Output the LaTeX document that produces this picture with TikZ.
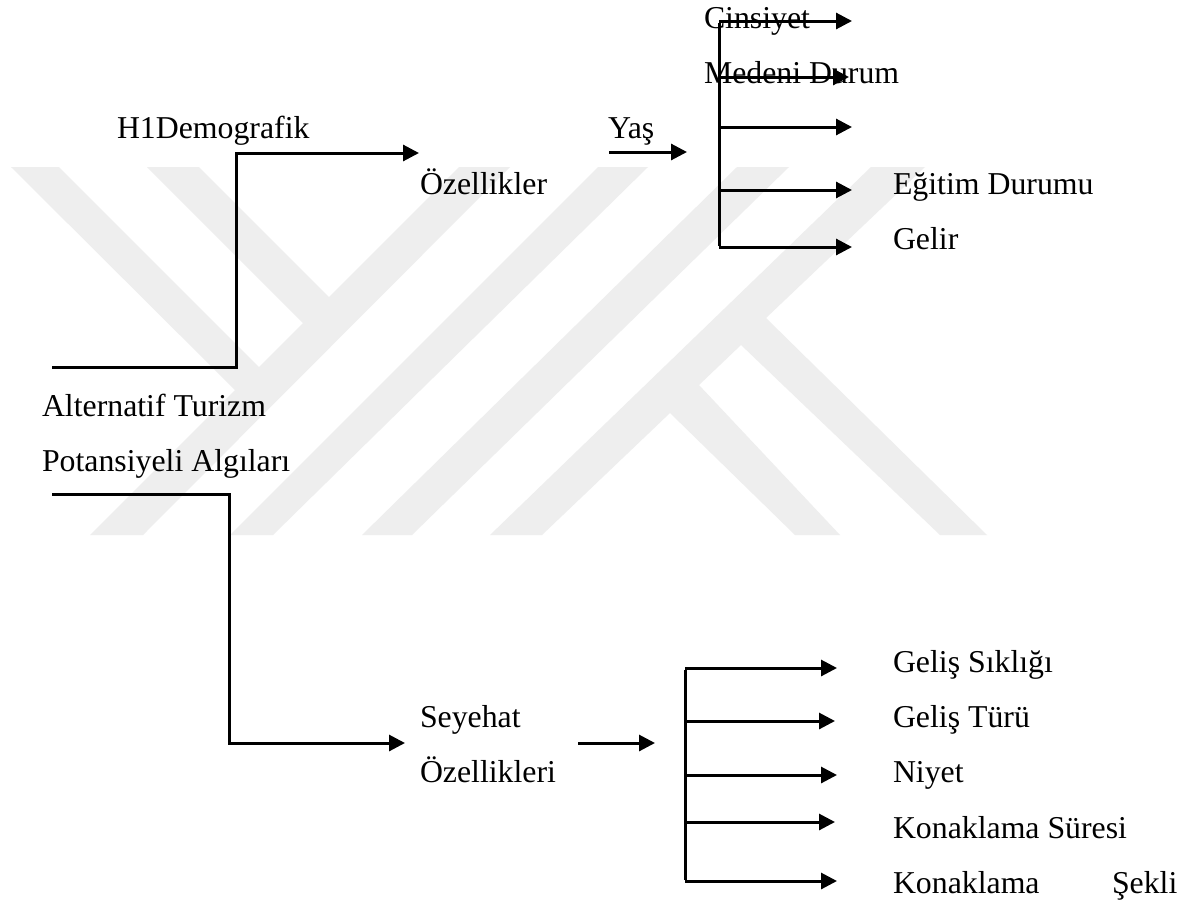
\documentclass[tikz,border=0pt]{standalone}
\usepackage{fontspec}
\setmainfont{Liberation Serif}
\usetikzlibrary{arrows.meta}
\definecolor{wmgrey}{HTML}{EEEEEE}
\tikzset{
  lbl/.style={anchor=base west,inner sep=0pt,outer sep=0pt,font=\fontsize{31.8}{36}\selectfont},
  wm/.style={fill=wmgrey,draw=none},
  wire/.style={line width=3pt,line join=miter,black},
  arrowline/.style={wire,-{Triangle[length=16pt,width=16pt]}},
}
\begin{document}
\begin{tikzpicture}[x=1pt,y=-1pt]
\useasboundingbox (0,0) rectangle (1201,905);
\fill[white] (0,0) rectangle (1201,905);
% watermark
\fill[wm] (90,535) -- (143,535) -- (510,167) -- (459,167) -- (329,297) -- (199,167) -- (147,167) -- (303,323) -- (259,367) -- (59,167) -- (11,167) -- (235,390) -- cycle;
\fill[wm] (230,535) -- (273,535) -- (648,167) -- (598,167) -- cycle;
\fill[wm] (362,535) -- (412,535) -- (789,167) -- (737,167) -- cycle;
\fill[wm] (490,535) -- (542,535) -- (670,413) -- (795,535) -- (840,535) -- (699,385) -- (741,345) -- (940,535) -- (987,535) -- (766,318) -- (925,167) -- (871,167) -- cycle;
% text
\node[lbl] (h1) at (117,138) {H1Demografik};
\node[lbl] (oz) at (420,194) {Özellikler};
\node[lbl] (yas) at (608,138) {Yaş};
\node[lbl] (cin) at (704,28) {Cinsiyet};
\node[lbl] (med) at (704,83) {Medeni Durum};
\node[lbl] (egi) at (893,194) {Eğitim Durumu};
\node[lbl] (gel) at (893,249) {Gelir};
\node[lbl] (alt) at (42,416) {Alternatif Turizm};
\node[lbl] (pot) at (42,471) {Potansiyeli Algıları};
\node[lbl] (sey) at (420,727) {Seyehat};
\node[lbl] (ozl) at (420,782) {Özellikleri};
\node[lbl] (gs) at (893,672) {Geliş Sıklığı};
\node[lbl] (gt) at (893,727) {Geliş Türü};
\node[lbl] (niy) at (893,782) {Niyet};
\node[lbl] (ks) at (893,838) {Konaklama Süresi};
\node[lbl] (ko) at (893,893) {Konaklama};
\node[lbl] (se) at (1112,893) {Şekli};
% coordinates
\coordinate (a0) at (52,367); \coordinate (a1) at (236,367); \coordinate (a2) at (236,153); \coordinate (a3) at (419,153);
\coordinate (b0) at (52,494); \coordinate (b1) at (229,494); \coordinate (b2) at (229,743); \coordinate (b3) at (405,743);
\coordinate (y0) at (609,152); \coordinate (y1) at (687,152);
\coordinate (s0) at (578,743); \coordinate (s1) at (655,743);
\coordinate (t1) at (719,21); \coordinate (t2) at (719,77); \coordinate (t3) at (719,127); \coordinate (t4) at (719,190); \coordinate (t5) at (719,247);
\coordinate (e1) at (852,21); \coordinate (e2) at (849,77); \coordinate (e3) at (852,127); \coordinate (e4) at (852,190); \coordinate (e5) at (852,247);
\coordinate (u1) at (685,668); \coordinate (u2) at (685,721); \coordinate (u3) at (685,775); \coordinate (u4) at (685,822); \coordinate (u5) at (685,881);
\coordinate (v1) at (837,668); \coordinate (v2) at (835,721); \coordinate (v3) at (837,775); \coordinate (v4) at (835,822); \coordinate (v5) at (837,881);
% connectors
\draw[arrowline] (a0) -- (a1) -- (a2) -- (a3);
\draw[arrowline] (b0) -- (b1) -- (b2) -- (b3);
\draw[arrowline] (y0) -- (y1);
\draw[arrowline] (s0) -- (s1);
\draw[wire] ([yshift=-1.5pt]t1) -- ([yshift=1.5pt]t5);
\draw[wire] ([yshift=-1.5pt]u1) -- ([yshift=1.5pt]u5);
\foreach \i in {1,...,5} {
  \draw[arrowline] (t\i) -- (e\i);
  \draw[arrowline] (u\i) -- (v\i);
}
\end{tikzpicture}
\end{document}
